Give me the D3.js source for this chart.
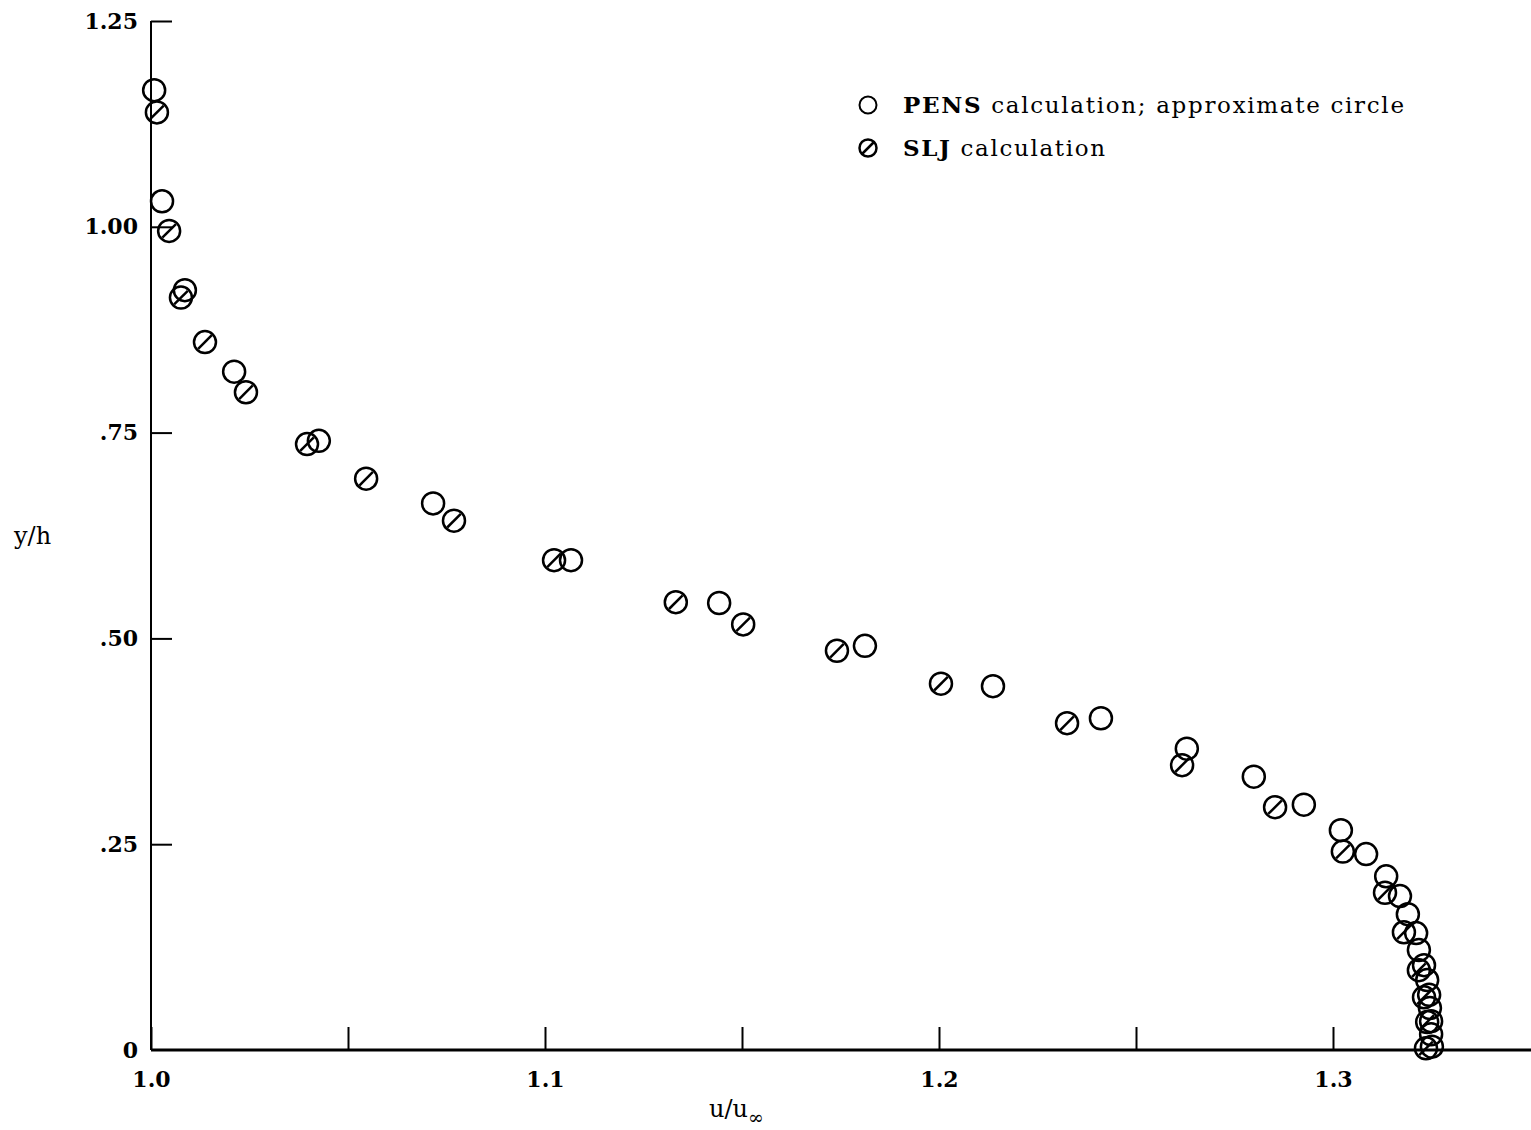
<!DOCTYPE html>
<html>
<head>
<meta charset="utf-8">
<script src="https://d3js.org/d3.v7.min.js"></script>
<style>
body {margin:0; background:white;}
text {font-family: "DejaVu Serif", serif; fill:black;}
</style>
</head>
<body>
<svg width="1531" height="1130"></svg>
<script>
// PENS calculation (open circles)
var pensU = [1.0008, 1.0028, 1.0086, 1.0211, 1.0426, 1.0716, 1.1066, 1.1442, 1.1812, 1.2137,
             1.2411, 1.2629, 1.2799, 1.2926, 1.3020, 1.3084, 1.3135, 1.3170, 1.3190, 1.3211,
             1.3218, 1.3231, 1.3239, 1.3244, 1.3246, 1.3249, 1.3249, 1.3251];
var pensY = [1.166, 1.031, 0.923, 0.824, 0.740, 0.664, 0.595, 0.543, 0.491, 0.442,
             0.403, 0.366, 0.332, 0.298, 0.267, 0.238, 0.211, 0.187, 0.165, 0.142,
             0.1215, 0.103, 0.085, 0.067, 0.051, 0.035, 0.019, 0.004];
// SLJ calculation (slashed circles)
var sljU = [1.0015, 1.0046, 1.0076, 1.0137, 1.0241, 1.0396, 1.0546, 1.0769, 1.1023, 1.1332,
            1.1503, 1.1741, 1.2005, 1.2325, 1.2617, 1.2853, 1.3025, 1.3132, 1.3180,
            1.3218, 1.3231, 1.3239, 1.3236];
var sljY = [1.139, 0.995, 0.914, 0.860, 0.799, 0.736, 0.694, 0.643, 0.595, 0.544,
            0.517, 0.485, 0.445, 0.397, 0.346, 0.295, 0.241, 0.191, 0.143,
            0.097, 0.064, 0.034, 0.002];
var xTicks = [1.0, 1.05, 1.1, 1.15, 1.2, 1.25, 1.3];
var xTickLabels = ["1.0", "", "1.1", "", "1.2", "", "1.3"];
var yTicks = [0, 0.25, 0.5, 0.75, 1.0, 1.25];
var yTickLabels = ["0", ".25", ".50", ".75", "1.00", "1.25"];
var legendNames = ["PENS", "SLJ"];
var legendRest = [" calculation; approximate circle", " calculation"];

var svg = d3.select("svg");
var x = d3.scaleLinear().domain([1.0, 1.35]).range([151, 1530]);
var y = d3.scaleLinear().domain([0, 1.25]).range([1050, 21]);

// x axis, ticks point up
var xAxis = d3.axisBottom(x).tickValues(xTicks).tickSize(-23)
  .tickFormat(function(d, i) { return xTickLabels[i]; });
var gx = svg.append("g").attr("transform", "translate(0,1050)").call(xAxis);
gx.select(".domain").attr("stroke-width", 3).attr("d", "M151,0H1531");
gx.selectAll(".tick line").attr("stroke-width", 2);
gx.selectAll(".tick text").attr("y", 21).attr("dy", "0.71em")
  .style("font-size", "22px").style("font-weight", "bold").style("font-family", "DejaVu Serif");

// y axis, ticks point right
var yAxis = d3.axisLeft(y).tickValues(yTicks).tickSize(-21)
  .tickFormat(function(d, i) { return yTickLabels[i]; });
var gy = svg.append("g").attr("transform", "translate(151,0)").call(yAxis);
gy.select(".domain").attr("stroke-width", 2).attr("d", "M0,21V1050");
gy.selectAll(".tick line").attr("stroke-width", 2);
gy.selectAll(".tick").filter(function(d) { return d === 0; }).select("line").remove();
gy.selectAll(".tick text").attr("x", -13)
  .style("font-size", "22px").style("font-weight", "bold").style("font-family", "DejaVu Serif");

// axis titles
var xt = svg.append("text").attr("x", 709).attr("y", 1117).style("font-size", "24px");
xt.append("tspan").text("u/u");
xt.append("tspan").attr("dy", 7).style("font-size", "19px").text("\u221E");
svg.append("text").attr("x", 14).attr("y", 544).style("font-size", "24px").text("y/h");

// markers
var r = 11;
function openMark(g) {
  g.append("circle").attr("r", r).attr("fill", "none").attr("stroke", "black").attr("stroke-width", 2.5);
}
function slashMark(g, rr) {
  g.append("circle").attr("r", rr).attr("fill", "none").attr("stroke", "black").attr("stroke-width", 2.5);
  var k = rr * 0.62;
  g.append("line").attr("x1", -k).attr("y1", k).attr("x2", k).attr("y2", -k)
    .attr("stroke", "black").attr("stroke-width", 2.5);
}

svg.append("g").selectAll("g")
  .data(d3.range(pensU.length))
  .enter().append("g")
  .attr("transform", function(i) { return "translate(" + x(pensU[i]) + "," + y(pensY[i]) + ")"; })
  .each(function() { openMark(d3.select(this)); });

svg.append("g").selectAll("g")
  .data(d3.range(sljU.length))
  .enter().append("g")
  .attr("transform", function(i) { return "translate(" + x(sljU[i]) + "," + y(sljY[i]) + ")"; })
  .each(function() { slashMark(d3.select(this), r); });

// legend
var lg = svg.append("g").attr("transform", "translate(868,105)");
lg.append("circle").attr("r", 8.5).attr("fill", "none").attr("stroke", "black").attr("stroke-width", 2);
var l2 = lg.append("g").attr("transform", "translate(0,43)");
l2.append("circle").attr("r", 8.5).attr("fill", "none").attr("stroke", "black").attr("stroke-width", 2.5);
l2.append("line").attr("x1", -5.5).attr("y1", 5.5).attr("x2", 5.5).attr("y2", -5.5)
  .attr("stroke", "black").attr("stroke-width", 2.5);
var legendWidths = [501, 202];
var lt = lg.selectAll("text.lab").data(legendNames).enter().append("text")
  .attr("class", "lab")
  .attr("x", 35).attr("y", function(d, i) { return 8 + i * 43; })
  .attr("textLength", function(d, i) { return legendWidths[i]; })
  .attr("lengthAdjust", "spacing")
  .style("font-size", "23px");
lt.append("tspan").style("font-weight", "bold").text(function(d) { return d; });
lt.append("tspan").text(function(d, i) { return legendRest[i]; });
</script>
</body>
</html>
